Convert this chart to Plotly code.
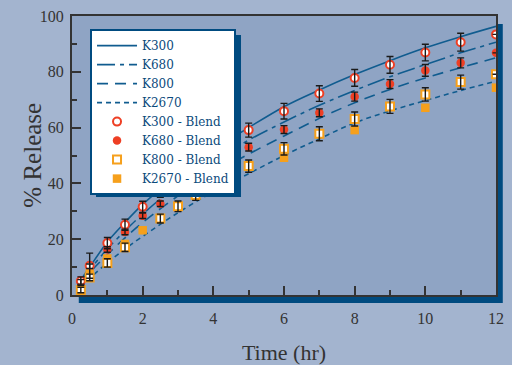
import plotly.graph_objects as go

# ---------------- data ----------------
line_times = [0.25, 0.5, 1, 1.5, 2, 3, 4, 5, 6, 7, 8, 9, 10, 11, 12]
k300_line = [5.5, 10, 19, 26, 32.5, 43, 52, 60, 67.5, 73.5, 79, 84, 88.6, 92.6, 96.3]
k680_line = [5, 9, 16.5, 23, 29, 39.5, 48, 55.5, 62, 68, 73.3, 78.2, 82.6, 86.8, 90.6]
k800_line = [4, 8, 14.5, 20.5, 26, 35.5, 43.5, 50.5, 57, 63.3, 68.9, 73.7, 77.8, 81.5, 85]
k2670_line = [3, 6, 11.5, 16.5, 21, 29.5, 37, 43.5, 50, 56, 61.7, 66, 69.7, 73.3, 76.6]

pt_times = [0.25, 0.5, 1, 1.5, 2, 2.5, 3, 3.5, 4, 4.5, 5, 6, 7, 8, 9, 10, 11, 12]
k300_blend = [5.0, 10.5, 18.6, 25.2, 31.6, 37.0, 41.8, 46.8, 51.0, 55.0, 59.1, 65.9, 72.2, 77.8, 82.5, 86.9, 90.6, 93.4]
k300_err = [1.5, 4.5, 2.0, 2.0, 2.0, 2.0, 2.2, 2.2, 2.4, 2.4, 2.5, 2.8, 2.8, 3.0, 3.0, 3.0, 3.2, 0]
k680_blend = [4.7, 10.3, 16.3, 22.6, 28.4, 32.7, 37.5, 40.5, 46.0, 49.5, 53.0, 59.3, 65.3, 71.1, 75.6, 80.5, 83.2, 86.8]
k680_err = [0.8, 0.8, 1.0, 1.0, 1.0, 1.0, 1.2, 1.2, 1.6, 1.4, 1.4, 1.4, 1.4, 1.6, 1.6, 2.1, 1.8, 0]
k800_blend = [1.8, 6.3, 11.5, 17.1, None, 27.4, 31.8, 35.8, 39.6, 42.8, 46.2, 52.4, 57.8, 63.1, 67.6, 71.9, 76.3, 79.1]
k800_err = [1.0, 1.2, 1.5, 1.5, 0, 1.6, 1.9, 1.9, 2.0, 2.0, 2.2, 2.2, 2.5, 2.5, 2.5, 2.4, 2.5, 0]
k2670_blend = [2.0, 7.7, 13.1, 18.3, 23.2, None, None, None, 37.8, None, None, 49.2, None, 59.1, None, 67.1, None, 74.3]

x_ticks = [0, 2, 4, 6, 8, 10, 12]
y_ticks = [0, 20, 40, 60, 80, 100]

# ---------------- style ----------------
LINE_C = "#105c8f"
RED = "#ee3f24"
ORANGE = "#f6a01c"
SERIF = "Liberation Serif"
INK = "#333333"

fig = go.Figure()

for name, ys, dash in [("K300", k300_line, "solid"),
                       ("K680", k680_line, "18px,5px,4px,5px"),
                       ("K800", k800_line, "11px,7px"),
                       ("K2670", k2670_line, "5px,4px")]:
    fig.add_trace(go.Scatter(x=line_times, y=ys, mode="lines", name=name,
                             line=dict(color=LINE_C, width=1.6, dash=dash, shape="spline"),
                             legendrank=len(fig.data) + 1))

fig.add_trace(go.Scatter(x=pt_times, y=k680_blend, mode="markers", name="K680 - Blend",
                         marker=dict(symbol="circle", size=8.5, color=RED, line=dict(width=0)),
                         legendrank=6))
fig.add_trace(go.Scatter(x=pt_times, y=k300_blend, mode="markers", name="K300 - Blend",
                         marker=dict(symbol="circle", size=8, color="white", line=dict(color=RED, width=2)),
                         legendrank=5))
fig.add_trace(go.Scatter(x=pt_times, y=k2670_blend, mode="markers", name="K2670 - Blend",
                         marker=dict(symbol="square", size=8.5, color=ORANGE, line=dict(width=0)),
                         legendrank=8))
fig.add_trace(go.Scatter(x=pt_times, y=k800_blend, mode="markers", name="K800 - Blend",
                         marker=dict(symbol="square", size=8, color="white", line=dict(color=ORANGE, width=2)),
                         legendrank=7))

# error bars drawn on top of markers
for ys, err in [(k300_blend, k300_err), (k680_blend, k680_err), (k800_blend, k800_err)]:
    fig.add_trace(go.Scatter(x=pt_times, y=ys, mode="markers", showlegend=False, hoverinfo="skip",
                             marker=dict(size=0.1, color="rgba(0,0,0,0)"),
                             error_y=dict(type="data", array=err, visible=True,
                                          color="#1a1a1a", thickness=1.4, width=3.5)))

# plot-area shadow and plot-area fill
fig.add_shape(type="rect", xref="paper", yref="paper", x0=0.016, x1=1.016, y0=-0.029, y1=0.971,
              fillcolor="#004b80", line=dict(width=0), layer="below")
fig.add_shape(type="rect", xref="paper", yref="paper", x0=0, x1=1, y0=0, y1=1,
              fillcolor="#8fa4c4", line=dict(width=0), layer="below")
# legend shadow
fig.add_shape(type="rect", xref="paper", yref="paper", x0=0.0566, x1=0.3986, y0=0.351, y1=0.932,
              fillcolor="#004b80", line=dict(width=0), layer="above")

axis_common = dict(showgrid=False, zeroline=False, showline=True, linecolor=INK, linewidth=2,
                   mirror=True, ticks="inside", ticklen=9, tickwidth=1.5, tickcolor=INK,
                   automargin=False,
                   tickfont=dict(family=SERIF, size=16, color=INK))

fig.update_xaxes(range=[0, 12], tickvals=x_ticks, ticklabelstandoff=8,
                 minor=dict(dtick=1, ticks="inside", ticklen=5, tickwidth=1.5, tickcolor=INK),
                 title=dict(text="Time (hr)", font=dict(family=SERIF, size=22, color=INK), standoff=22),
                 **axis_common)
fig.update_yaxes(range=[0, 100], tickvals=y_ticks, ticklabelstandoff=3,
                 minor=dict(dtick=10, ticks="inside", ticklen=5, tickwidth=1.5, tickcolor=INK),
                 **axis_common)

fig.add_annotation(text="% Release", xref="paper", yref="paper", x=-0.094, y=0.5,
                   xanchor="center", yanchor="middle", textangle=-90, showarrow=False,
                   font=dict(family=SERIF, size=25, color=INK))

fig.update_layout(
    width=512, height=365,
    margin=dict(l=72, r=16, t=16, b=70),
    paper_bgcolor="#a3b4cf", plot_bgcolor="rgba(0,0,0,0)",
    showlegend=True,
    legend=dict(x=0.0425, y=0.953, xanchor="left", yanchor="top", bgcolor="white",
                bordercolor="#004b80", borderwidth=2, itemwidth=40,
                font=dict(family="DejaVu Serif", size=12, color="#0b4a7c"), tracegroupgap=0),
)

fig.write_html("out.html")
